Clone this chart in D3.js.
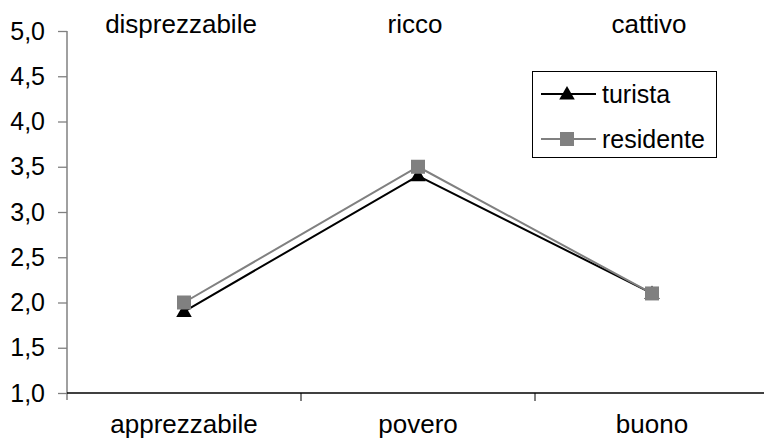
<!DOCTYPE html>
<html>
<head>
<meta charset="utf-8">
<script src="https://cdn.jsdelivr.net/npm/d3@7"></script>
<style>
  body { margin: 0; background: #fff; }
  svg { display: block; font-family: "Liberation Sans", Arial, sans-serif; }
</style>
</head>
<body>
<svg id="chart" width="764" height="442"></svg>
<script>
//data
const bottomLabels = ["apprezzabile", "povero", "buono"];
const topLabels = ["disprezzabile", "ricco", "cattivo"];
const turista = [1.9, 3.4, 2.1];
const residente = [2.0, 3.5, 2.1];
const yTicks = [1.0, 1.5, 2.0, 2.5, 3.0, 3.5, 4.0, 4.5, 5.0];
const seriesNames = ["turista", "residente"];

//dimensions
const width = 764;
const height = 442;
const margin = { left: 67, top: 31, right: -5, bottom: 49 };
const fontSize = 25;
const catFontSize = 26;

const svg = d3.select("#chart");

//scales
const x = d3.scaleBand()
    .domain(bottomLabels)
    .range([margin.left, width - margin.right])
    .paddingInner(0).paddingOuter(0);
const y = d3.scaleLinear()
    .domain([1, 5])
    .range([height - margin.bottom, margin.top]);

const cx = d => x(d) + x.bandwidth() / 2;

//y axis (grey)
const yAxisG = svg.append("g")
    .attr("transform", "translate(" + margin.left + ",0)")
    .call(d3.axisLeft(y).tickValues(yTicks).tickSize(9).tickPadding(13)
        .tickFormat(d => d3.format(".1f")(d).replace(".", ",")));
yAxisG.select(".domain").remove();
yAxisG.selectAll(".tick line").attr("stroke", "#808080").attr("stroke-width", 1.3);
yAxisG.selectAll(".tick text")
    .attr("fill", "#000")
    .style("font-size", fontSize + "px")
    .style("font-family", "'Liberation Sans', Arial, sans-serif");
svg.append("line")
    .attr("x1", margin.left).attr("x2", margin.left)
    .attr("y1", y(5)).attr("y2", y(1) + 7)
    .attr("stroke", "#808080").attr("stroke-width", 1.5);

//x axis (black)
const xAxisG = svg.append("g")
    .attr("transform", "translate(0," + y(1) + ")");
xAxisG.append("line")
    .attr("x1", margin.left).attr("x2", width)
    .attr("stroke", "#000").attr("stroke-width", 1.3);
xAxisG.selectAll("line.xtick")
    .data(bottomLabels.slice(1))
    .enter().append("line")
    .attr("class", "xtick")
    .attr("x1", d => x(d)).attr("x2", d => x(d))
    .attr("y1", 0).attr("y2", 8)
    .attr("stroke", "#000").attr("stroke-width", 1);

//category labels
svg.selectAll("text.bottom-label")
    .data(bottomLabels)
    .enter().append("text")
    .attr("class", "bottom-label")
    .attr("x", d => cx(d))
    .attr("y", 433)
    .attr("text-anchor", "middle")
    .style("font-size", catFontSize + "px")
    .text(d => d);

svg.selectAll("text.top-label")
    .data(topLabels)
    .enter().append("text")
    .attr("class", "top-label")
    .attr("x", (d, i) => cx(bottomLabels[i]) - 3)
    .attr("y", 33)
    .attr("text-anchor", "middle")
    .style("font-size", catFontSize + "px")
    .text(d => d);

//series
const line = d3.line()
    .x((d, i) => cx(bottomLabels[i]))
    .y(d => y(d));

const triangle = d3.symbol().type(d3.symbolTriangle).size(105);

svg.append("path")
    .datum(turista)
    .attr("d", line)
    .attr("fill", "none")
    .attr("stroke", "#000")
    .attr("stroke-width", 2);

svg.append("path")
    .datum(residente)
    .attr("d", line)
    .attr("fill", "none")
    .attr("stroke", "#808080")
    .attr("stroke-width", 2);

svg.selectAll("path.tri")
    .data(turista)
    .enter().append("path")
    .attr("class", "tri")
    .attr("transform", (d, i) => "translate(" + cx(bottomLabels[i]) + "," + (y(d) + 1) + ")")
    .attr("d", triangle)
    .attr("fill", "#000");

const sq = 14;
svg.selectAll("rect.sq")
    .data(residente)
    .enter().append("rect")
    .attr("class", "sq")
    .attr("x", (d, i) => cx(bottomLabels[i]) - sq / 2)
    .attr("y", d => y(d) - sq / 2)
    .attr("width", sq)
    .attr("height", sq)
    .attr("fill", "#808080");

//legend
const legendG = svg.append("g").attr("transform", "translate(532,71)");
legendG.append("rect")
    .attr("x", 0.5).attr("y", 0.5)
    .attr("width", 184).attr("height", 86)
    .attr("fill", "#fff")
    .attr("stroke", "#000")
    .attr("stroke-width", 1);

const legendItem = legendG.selectAll("g.item")
    .data(seriesNames)
    .enter().append("g")
    .attr("class", "item")
    .attr("transform", (d, i) => "translate(0," + (23 + i * 45) + ")");

legendItem.append("line")
    .attr("x1", 9).attr("x2", 64)
    .attr("stroke", (d, i) => i === 0 ? "#000" : "#808080")
    .attr("stroke-width", 2);

legendItem.each(function(d, i){
    const g = d3.select(this);
    if (i === 0) {
        g.append("path")
            .attr("transform", "translate(35,1)")
            .attr("d", triangle)
            .attr("fill", "#000");
    } else {
        g.append("rect")
            .attr("x", 35 - sq / 2).attr("y", -sq / 2)
            .attr("width", sq).attr("height", sq)
            .attr("fill", "#808080");
    }
});

legendItem.append("text")
    .attr("x", 70)
    .attr("y", 9)
    .style("font-size", fontSize + "px")
    .text(d => d);
</script>
</body>
</html>
